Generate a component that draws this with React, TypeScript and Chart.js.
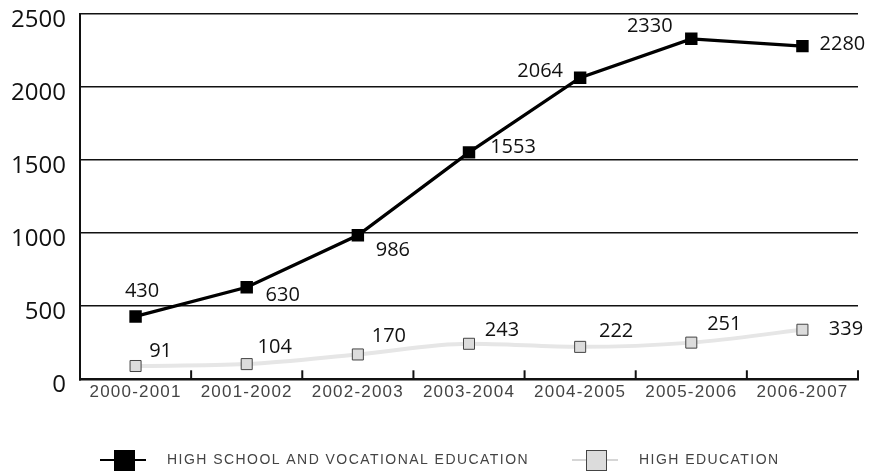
import React, { useEffect, useRef } from "react";
import { Chart, registerables } from "chart.js";

Chart.register(...registerables);

const categories = ["2000-2001", "2001-2002", "2002-2003", "2003-2004", "2004-2005", "2005-2006", "2006-2007"];
const vocationalValues = [430, 630, 986, 1553, 2064, 2330, 2280];
const higherValues = [91, 104, 170, 243, 222, 251, 339];
const yTicks = [0, 500, 1000, 1500, 2000, 2500];
const seriesNames = ["HIGH SCHOOL AND VOCATIONAL EDUCATION", "HIGH EDUCATION"];

// label offsets (style only): [dx, dy] from point to label center
const vocOffsets = [[6.5, -25], [36, 8], [35, 15], [44, -5], [-40, -6], [-41.5, -12.5], [40, -2]];
const higherOffsets = [[25, -15], [28, -17], [31, -18], [33, -13], [36, -16], [33, -18], [43.5, 0]];

const labelPlugin = {
  id: "labels",
  afterDatasetsDraw(chart: any) {
    const ctx = chart.ctx;
    ctx.save();
    ctx.font = "20px 'Open Sans'";
    ctx.fillStyle = "#111";
    ctx.textAlign = "center";
    ctx.textBaseline = "middle";
    const sets = [
      { vals: vocationalValues, offs: vocOffsets },
      { vals: higherValues, offs: higherOffsets },
    ];
    sets.forEach((s, di) => {
      const meta = chart.getDatasetMeta(di);
      meta.data.forEach((pt: any, i: number) => {
        ctx.fillText(String(s.vals[i]), pt.x + s.offs[i][0], pt.y + s.offs[i][1]);
      });
    });
    ctx.restore();
  },
  afterDraw(chart: any) {
    const ctx = chart.ctx;
    const area = chart.chartArea;
    const xs = chart.scales.x;
    ctx.save();
    // inward ticks at category boundaries
    ctx.strokeStyle = "#111";
    ctx.lineWidth = 2;
    for (let i = 1; i <= categories.length; i++) {
      const x = i === categories.length ? area.right : (xs.getPixelForValue(i - 1) + xs.getPixelForValue(i)) / 2;
      ctx.beginPath();
      ctx.moveTo(x, area.bottom);
      ctx.lineTo(x, area.bottom - 9);
      ctx.stroke();
    }
    // x labels with letter spacing
    ctx.font = "17px 'Liberation Sans'";
    (ctx as any).letterSpacing = "1.2px";
    ctx.fillStyle = "#444";
    ctx.textAlign = "center";
    ctx.textBaseline = "middle";
    categories.forEach((c, i) => {
      ctx.fillText(c, xs.getPixelForValue(i), area.bottom + 13);
    });
    // legend
    const ly = 460;
    ctx.font = "14px 'Liberation Sans'";
    (ctx as any).letterSpacing = "1.45px";
    ctx.textAlign = "left";
    // series 1
    ctx.strokeStyle = "#000";
    ctx.lineWidth = 2;
    ctx.beginPath();
    ctx.moveTo(100, ly);
    ctx.lineTo(146, ly);
    ctx.stroke();
    ctx.fillStyle = "#000";
    ctx.fillRect(114, ly - 10, 21, 21);
    ctx.fillStyle = "#444";
    ctx.fillText(seriesNames[0], 167, ly);
    // series 2
    ctx.strokeStyle = "#d6d6d6";
    ctx.lineWidth = 2;
    ctx.beginPath();
    ctx.moveTo(572, ly);
    ctx.lineTo(618, ly);
    ctx.stroke();
    ctx.fillStyle = "#dcdcdc";
    ctx.fillRect(586, ly - 10, 20, 21);
    ctx.strokeStyle = "#444";
    ctx.lineWidth = 1;
    ctx.strokeRect(586.5, ly - 9.5, 20, 20);
    ctx.fillStyle = "#444";
    ctx.fillText(seriesNames[1], 639, ly);
    ctx.restore();
  },
};

export default function App() {
  const ref = useRef<HTMLCanvasElement | null>(null);
  useEffect(() => {
    if (!ref.current) return;
    const chart = new Chart(ref.current, {
      type: "line",
      data: {
        labels: categories,
        datasets: [
          {
            label: seriesNames[0],
            data: vocationalValues,
            borderColor: "#000",
            borderWidth: 3.3,
            backgroundColor: "#000",
            pointStyle: "rect",
            pointRadius: 8.8,
            pointBorderWidth: 0,
            tension: 0,
          },
          {
            label: seriesNames[1],
            data: higherValues,
            borderColor: "#e6e6e6",
            borderWidth: 4,
            backgroundColor: "#dcdcdc",
            pointBackgroundColor: "#dcdcdc",
            pointBorderColor: "#444",
            pointBorderWidth: 1,
            pointStyle: "rect",
            pointRadius: 7.8,
            cubicInterpolationMode: "monotone",
            order: 1,
          },
        ],
      },
      options: {
        animation: false,
        responsive: false,
        maintainAspectRatio: false,
        layout: { padding: { top: 14, right: 11, left: 0, bottom: 0 } },
        plugins: { legend: { display: false }, tooltip: { enabled: false } },
        scales: {
          x: {
            offset: true,
            grid: { display: false, drawTicks: false },
            border: { color: "#111", width: 2.5 },
            ticks: { color: "rgba(0,0,0,0)", font: { size: 15 } },
            afterFit(scale: any) {
              scale.height = 92.7;
              scale.paddingLeft = 0;
              scale.paddingRight = 0;
            },
          },
          y: {
            min: 0,
            max: 2500,
            afterBuildTicks(scale: any) {
              scale.ticks = yTicks.map((v) => ({ value: v }));
            },
            grid: {
              color: (c: any) => (c.tick && c.tick.value === 0 ? "rgba(0,0,0,0)" : "#111"),
              lineWidth: 1.5,
              drawTicks: false,
            },
            border: { color: "#111", width: 2 },
            ticks: {
              color: "#111",
              font: { size: 24, family: "'Open Sans'" },
              padding: 14,
              labelOffset: 6,
              callback: (v: any) => String(v),
            },
            afterFit(scale: any) {
              scale.width = 80;
              scale.paddingTop = 0;
              scale.paddingBottom = 0;
            },
          },
        },
      },
      plugins: [labelPlugin],
    });
    return () => chart.destroy();
  }, []);
  return (
    <div style={{ position: "absolute", left: 0, top: 0, width: 869, height: 472, background: "#fff" }}>
      <canvas ref={ref} width={869} height={472} style={{ width: 869, height: 472 }} />
    </div>
  );
}
